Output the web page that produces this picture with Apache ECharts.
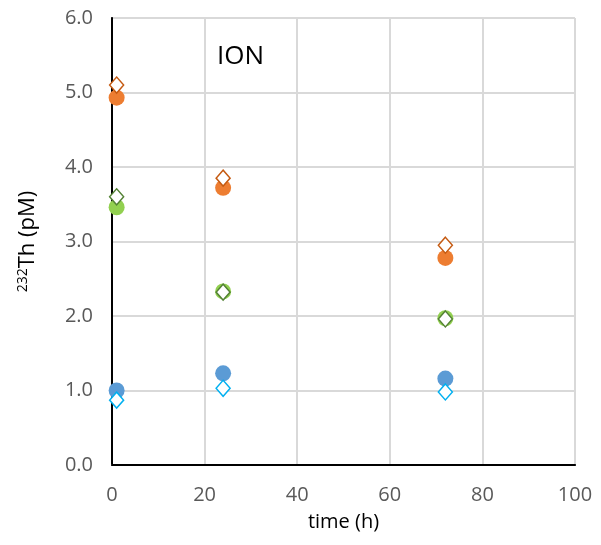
<!DOCTYPE html>
<html><head><meta charset="utf-8">
<script src="https://cdn.jsdelivr.net/npm/echarts@6/dist/echarts.min.js"></script>
<style>html,body{margin:0;padding:0;background:#fff}#c{width:601px;height:545px}</style>
</head><body><div id="c"></div>
<script>
const times = [1, 24, 72];
const orangeCircle = [4.93, 3.72, 2.78];
const orangeDiamond = [5.10, 3.85, 2.95];
const greenCircle = [3.46, 2.33, 1.97];
const greenDiamond = [3.60, 2.32, 1.96];
const blueCircle = [1.00, 1.23, 1.16];
const blueDiamond = [0.87, 1.03, 0.98];
const xTicks = [0, 20, 40, 60, 80, 100];
const yTicks = [0, 1, 2, 3, 4, 5, 6];

const pts = arr => times.map((t, i) => [t, arr[i]]);
const chart = echarts.init(document.getElementById('c'));
const font = '"Open Sans", "Noto Sans", sans-serif';
function circ(data, color) {
  return {type: 'scatter', data: pts(data), symbol: 'circle', symbolSize: 16,
    itemStyle: {color: color, opacity: 1}, z: 2};
}
function dia(data, color) {
  return {type: 'scatter', data: pts(data), symbol: 'diamond', symbolSize: [14, 16],
    itemStyle: {color: '#fff', borderColor: color, borderWidth: 1.5, opacity: 1}, z: 3};
}
chart.setOption({
  animation: false,
  grid: {left: 112, right: 26, top: 18, bottom: 80},
  xAxis: [{
    type: 'value', min: 0, max: 100, interval: 20,
    axisLine: {show: true, lineStyle: {color: '#888', width: 2}},
    axisTick: {show: false},
    axisLabel: {color: '#595959', fontSize: 20, fontFamily: font, margin: 20,
      formatter: v => xTicks.includes(v) ? String(v) : ''},
    splitLine: {show: true, lineStyle: {color: '#d9d9d9', width: 2}},
    name: 'time (h)', nameLocation: 'middle', nameGap: 47,
    nameTextStyle: {color: '#000', fontSize: 20, fontFamily: font}
  }, {
    type: 'value', position: 'top', min: 0, max: 100,
    axisLine: {show: true, lineStyle: {color: '#000', width: 2}},
    axisTick: {show: false}, axisLabel: {show: false}, splitLine: {show: false}
  }],
  yAxis: [{
    type: 'value', min: 0, max: 6, interval: 1,
    axisLine: {show: true, lineStyle: {color: '#888', width: 2}},
    axisTick: {show: false},
    axisLabel: {color: '#595959', fontSize: 20, fontFamily: font, margin: 19,
      formatter: v => yTicks.includes(v) ? v.toFixed(1) : ''},
    splitLine: {show: true, lineStyle: {color: '#d9d9d9', width: 2}},
    name: '{sup|232}Th (pM)', nameLocation: 'middle', nameGap: 72, nameRotate: 90,
    nameTextStyle: {color: '#000', fontSize: 22, fontFamily: font,
      rich: {sup: {fontSize: 14, verticalAlign: 'top', padding: [0, 0, 10, 0], fontFamily: font, color: '#000'}}}
  }, {
    type: 'value', position: 'right', min: 0, max: 6,
    axisLine: {show: true, lineStyle: {color: '#000', width: 2}},
    axisTick: {show: false}, axisLabel: {show: false}, splitLine: {show: false}
  }],
  graphic: [{type: 'text', left: 217, top: 44,
    style: {text: 'ION', fontSize: 26, fontFamily: font, fill: '#000'}}],
  series: [
    circ(orangeCircle, '#ED7D31'),
    circ(greenCircle, '#92D050'),
    circ(blueCircle, '#5B9BD5'),
    dia(orangeDiamond, '#C55A11'),
    dia(greenDiamond, '#548235'),
    dia(blueDiamond, '#00B0F0')
  ]
});
</script></body></html>
